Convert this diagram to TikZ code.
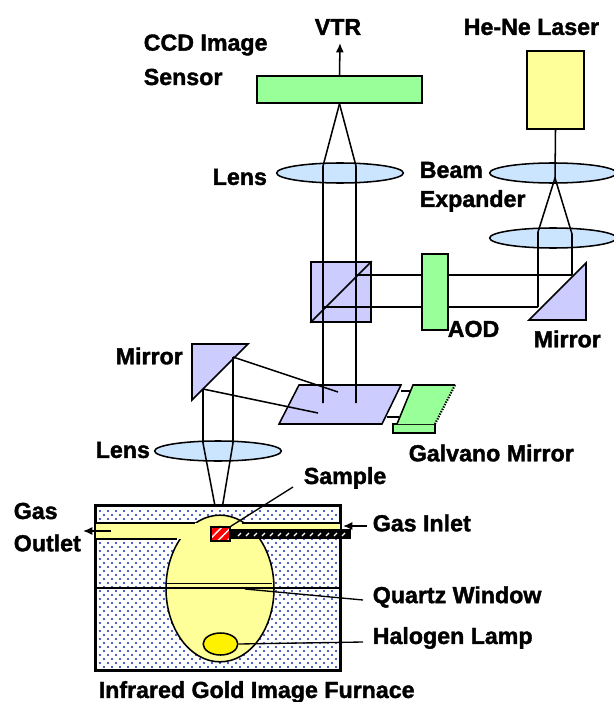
\documentclass[tikz,border=0pt]{standalone}
\usepackage{xcolor}
\usepackage{fontspec}
\setmainfont{Liberation Sans}[BoldFeatures={FakeBold=1.6}]
\usetikzlibrary{arrows.meta,shapes.geometric,patterns.meta}
\definecolor{lensblue}{HTML}{CCE5FF}
\definecolor{lilac}{HTML}{CCCCFF}
\definecolor{paleyellow}{HTML}{FFFF99}
\definecolor{palegreen}{HTML}{99FF99}
\definecolor{dotblue}{HTML}{0A2FB0}
\begin{document}
\begin{tikzpicture}[
  x=0.75pt, y=-0.75pt,
  line width=1.15pt,
  lens/.style={ellipse, draw=black, fill=lensblue, minimum width=95pt, minimum height=15pt, inner sep=0pt},
  greenbox/.style={rectangle, draw=black, fill=palegreen, inner sep=0pt},
  yellowbox/.style={rectangle, draw=black, fill=paleyellow, inner sep=0pt},
  cube/.style={rectangle, draw=black, fill=lilac, minimum width=45pt, minimum height=45pt, inner sep=0pt},
  prism/.style={draw=black, fill=lilac, line join=miter},
  ray/.style={draw=black},
  leader/.style={draw=black, line width=1pt},
  arrow/.style={-{Latex[length=7pt,width=6pt]}, draw=black},
  label/.style={font=\fontsize{17.4}{20}\selectfont\bfseries, inner sep=0pt, anchor=west}
]
\useasboundingbox (0,0) rectangle (613,702);

\node[greenbox, minimum width=123.75pt, minimum height=20.25pt] (ccd) at (339.5,89.5) {};
\node[yellowbox, minimum width=42.75pt, minimum height=58.5pt] (laser) at (555.5,90) {};
\node[greenbox, minimum width=19.5pt, minimum height=57pt] (aod) at (435,292) {};
\node[cube] (splitter) at (341,292) {};
\node[lens] (lensTop) at (340,173) {};
\node[lens] (expanderA) at (553,173) {};
\node[lens] (expanderB) at (553,238) {};
\node[lens] (lensLow) at (218,451) {};

\coordinate (vtrEnd) at (340,43);
\coordinate (viewL) at (323,166);
\coordinate (viewR) at (356,166);
\coordinate (scanA) at (323,403);
\coordinate (scanB) at (356,403);
\coordinate (beamApex) at (555,178);
\coordinate (beamL) at (538,232);
\coordinate (beamR) at (572,234);
\coordinate (foldL) at (538,307);
\coordinate (foldR) at (572,275);
\coordinate (crossA) at (356,275);
\coordinate (crossB) at (323,307);
\coordinate (backA) at (233,357);
\coordinate (backB) at (203,389);
\coordinate (hitA) at (338,392);
\coordinate (hitB) at (318,413);
\coordinate (inA) at (233,443);
\coordinate (inB) at (203,443);
\coordinate (focus) at (219,527);

\filldraw[prism] (586,263) -- (586,320) -- (529,320) -- cycle;
\filldraw[prism] (192,344) -- (248,344) -- (192,400) -- cycle;
\filldraw[prism] (299,385) -- (401,385) -- (382,424) -- (279,424) -- cycle;
\node[greenbox, minimum width=31.5pt, minimum height=6.75pt] (galvanoBase) at (414,428.5) {};
\draw[ray] (401,391) -- (411,391);
\draw[ray] (387,417) -- (399,417);
\fill[palegreen] (413,385) -- (455,385) -- (435,424) -- (397,424) -- cycle;
\draw[black] (397,424) -- (413,385) -- (455,385);
\draw[black, dash pattern=on 1pt off 1pt, line width=1.6pt] (455,385) -- (435,424);

\draw[arrow] (ccd.north) -- (vtrEnd);
\draw[ray] (ccd.south) -- (viewL) -- (scanA);
\draw[ray] (ccd.south) -- (viewR) -- (scanB);
\draw[ray] (splitter.south west) -- (splitter.north east);
\draw[ray] (crossA) -- (aod.west |- crossA);
\draw[ray] (crossB) -- (aod.west |- crossB);
\draw[ray] (aod.east |- crossA) -- (foldR);
\draw[ray] (aod.east |- crossB) -- (foldL);
\draw[ray] (laser.south) -- (beamApex);
\draw[ray] (beamApex) -- (beamL) -- (foldL);
\draw[ray] (beamApex) -- (beamR) -- (foldR);
\draw[ray] (backA) -- (hitA);
\draw[ray] (backB) -- (hitB);
\draw[ray] (backA) -- (inA) -- (focus);
\draw[ray] (backB) -- (inB) -- (focus);

\node[rectangle, draw=black, fill=white, minimum width=183pt, minimum height=123pt, inner sep=0pt] (furnace) at (218,588) {};
\foreach \row in {0,...,39} {
  \foreach \col in {0,...,29} {
    \pgfmathsetmacro{\dotx}{100+8*\col+4*mod(\row,2)}
    \fill[dotblue] (\dotx,511+4*\row) circle (0.8pt);
  }
}
\node[ellipse, draw=black, fill=paleyellow, minimum width=81pt, minimum height=110pt, inner sep=0pt] (chamber) at (220,588.5) {};
\node[rectangle, fill=paleyellow, minimum width=184.5pt, minimum height=11.5pt, inner sep=0pt] (channel) at (219,531) {};
\draw[black] (furnace.south west) rectangle (furnace.north east);
\draw[black] (furnace.west |- 0,523) -- (195,523);
\draw[black] (furnace.west |- 0,539) -- (177,539);
\draw[black] (242,523) -- (342,523);
\draw[black] (furnace.west |- 0,588) -- (furnace.east |- 0,588);
\draw[black] (chamber.west |- 0,583.5) -- (272,583.5);
\node[ellipse, draw=black, fill=yellow, minimum width=26pt, minimum height=16.5pt, inner sep=0pt] (lamp) at (220.5,644) {};
\node[rectangle, draw=black, fill=black, minimum width=88.5pt, minimum height=6pt, inner sep=0pt] (tube) at (291,534) {};
\foreach \col in {0,...,13} {
  \draw[white, line width=0.9pt] (238+8*\col,536) -- (241+8*\col,533);
}
\node[rectangle, draw=black, preaction={fill=red}, pattern={Lines[angle=45,distance=5pt,line width=1pt]}, pattern color=white, minimum width=14.25pt, minimum height=10.5pt, inner sep=0pt] (sample) at (220.5,534) {};
\draw[ray] (focus) -- (sample.north);

\coordinate (outletTail) at (111,531);
\coordinate (outletEnd) at (83,531);
\coordinate (inletTail) at (367,526);
\coordinate (inletEnd) at (343,526);
\coordinate (sampleTail) at (293,487);
\coordinate (windowTail) at (363,600);
\coordinate (windowEnd) at (245,589);
\coordinate (lampTail) at (363,642);
\draw[arrow] (outletTail) -- (outletEnd);
\draw[arrow] (inletTail) -- (inletEnd);
\draw[leader] (sampleTail) -- (sample.north east);
\draw[leader] (windowTail) -- (windowEnd);
\draw[leader] (lampTail) -- (lamp.east);

\node[label] (vtrText) at (314,27) {VTR};
\node[label] (ccdText) at (143,45) {CCD Image};
\node[label] (sensorText) at (143,77) {Sensor};
\node[label] (laserText) at (463,27) {He-Ne Laser};
\node[label] (lensTopText) at (212,177) {Lens};
\node[label] (beamText) at (419,170) {Beam};
\node[label] (expanderText) at (419,201) {Expander};
\node[label] (aodText) at (447,329) {AOD};
\node[label] (mirrorRText) at (533,339) {Mirror};
\node[label] (mirrorLText) at (115,356) {Mirror};
\node[label] (lensLowText) at (95,450) {Lens};
\node[label] (galvanoText) at (408,453) {Galvano Mirror};
\node[label] (sampleText) at (303,478) {Sample};
\node[label] (gasText) at (13,511) {Gas};
\node[label] (outletText) at (13,543) {Outlet};
\node[label] (inletText) at (372,523) {Gas Inlet};
\node[label] (windowText) at (372,597) {Quartz Window};
\node[label] (lampText) at (372,638) {Halogen Lamp};
\node[label] (furnaceText) at (98,692) {Infrared Gold Image Furnace};
\end{tikzpicture}
\end{document}
